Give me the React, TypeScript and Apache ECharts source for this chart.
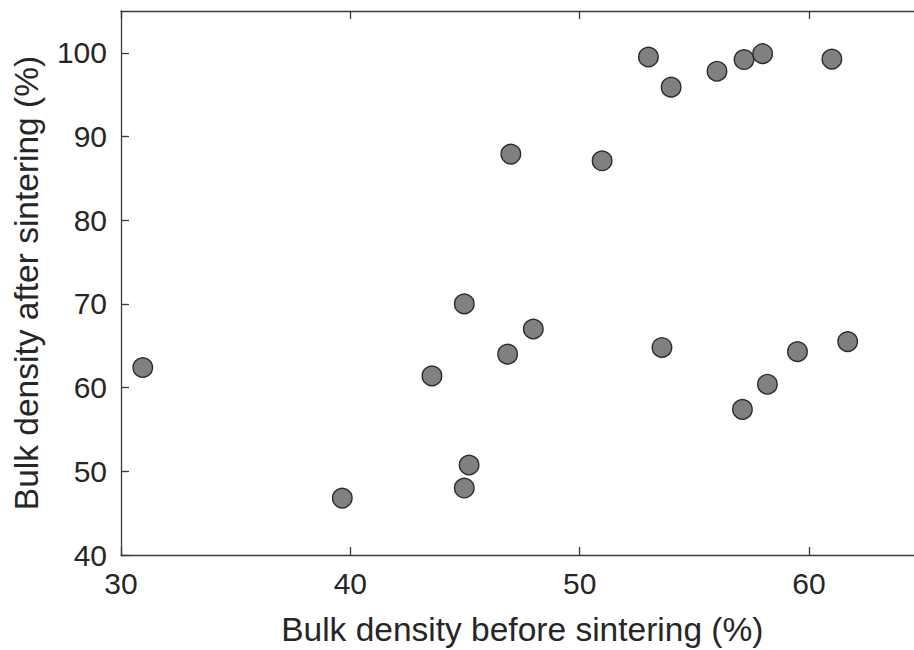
import React, { useEffect, useRef } from "react";
import * as echarts from "echarts";

const beforeSintering: number[] = [
  30.95, 39.65, 43.56, 44.97, 45.18, 44.97, 46.86, 47.98,
  47.0, 50.98, 53.0, 53.99, 55.99, 57.17, 57.98, 61.0,
  53.59, 57.1, 58.19, 59.5, 61.69,
];
const afterSintering: number[] = [
  62.4, 46.8, 61.4, 70.0, 50.75, 48.0, 64.0, 67.0,
  87.9, 87.1, 99.5, 95.9, 97.8, 99.2, 99.9, 99.25,
  64.8, 57.4, 60.4, 64.3, 65.5,
];

const xTitle = "Bulk density before sintering (%)";
const yTitle = "Bulk density after sintering (%)";

const FONT = "'Liberation Sans', Arial, Helvetica, sans-serif";
const TEXT = "#262626";
const LINE = "#3a3a3a";

export default function App() {
  const ref = useRef<HTMLDivElement>(null);
  useEffect(() => {
    document.body.style.margin = "0";
    document.body.style.overflow = "hidden";
    document.documentElement.style.overflow = "hidden";
    if (!ref.current) return;
    const chart = echarts.init(ref.current, undefined, { renderer: "svg" });
    const points = beforeSintering.map((x, i) => [x, afterSintering[i]]);
    const axisLine = { show: true, lineStyle: { color: LINE, width: 1.3 } };
    const axisTick = { show: true, inside: true, length: 8, lineStyle: { color: LINE, width: 1.3 } };
    chart.setOption({
      animation: false,
      backgroundColor: "#ffffff",
      grid: {
        left: 121,
        top: 11,
        width: 802.6,
        height: 544,
        containLabel: false,
        outerBoundsMode: "none",
      },
      xAxis: [
        {
          type: "value",
          min: 30,
          max: 65,
          interval: 10,
          position: "bottom",
          axisLine,
          axisTick,
          splitLine: { show: false },
          axisLabel: {
            show: true,
            showMaxLabel: false,
            margin: 13,
            fontSize: 30,
            fontFamily: FONT,
            color: TEXT,
          },
          name: xTitle,
          nameLocation: "middle",
          nameGap: 57,
          nameTextStyle: { fontSize: 33.5, fontFamily: FONT, color: TEXT },
        },
        {
          type: "value",
          min: 30,
          max: 65,
          interval: 10,
          position: "top",
          axisLine,
          axisTick,
          splitLine: { show: false },
          axisLabel: { show: false },
        },
      ],
      yAxis: [
        {
          type: "value",
          min: 40,
          max: 105,
          interval: 10,
          position: "left",
          axisLine,
          axisTick,
          splitLine: { show: false },
          axisLabel: {
            show: true,
            showMaxLabel: false,
            margin: 14,
            fontSize: 30,
            fontFamily: FONT,
            color: TEXT,
          },
          name: yTitle,
          nameLocation: "middle",
          nameGap: 78,
          nameTextStyle: { fontSize: 33.5, fontFamily: FONT, color: TEXT },
        },
      ],
      series: [
        {
          type: "scatter",
          data: points,
          symbol: "circle",
          symbolSize: 19.5,
          itemStyle: { color: "#808080", borderColor: "#2b2b2b", borderWidth: 1.4, opacity: 1 },
        },
      ],
    });
    return () => chart.dispose();
  }, []);
  return <div ref={ref} style={{ width: 914, height: 650, overflow: "hidden" }} />;
}
